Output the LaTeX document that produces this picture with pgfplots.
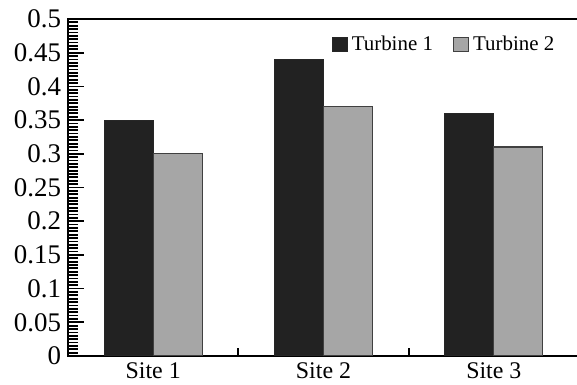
\documentclass[border=0pt]{standalone}
\usepackage{pgfplots}
\pgfplotsset{compat=1.18}
\usepackage{fontspec}
\setmainfont{Liberation Serif}
\definecolor{barblack}{HTML}{222222}
\definecolor{bargray}{HTML}{A6A6A6}
\begin{document}
\begin{tikzpicture}
\begin{axis}[
  name=ax,
  scale only axis,
  width=255.5bp, height=168.5bp,
  xmin=-0.5, xmax=2.5,
  ymin=0, ymax=0.5,
  xtick={0,1,2},
  xticklabels={Site 1,Site 2,Site 3},
  xtick style={draw=none},
  extra x ticks={0.5,1.5},
  extra x tick labels={},
  extra x tick style={xtick style={draw=black, line width=0.9pt}, major tick length=4bp},
  ytick={0,0.05,...,0.5},
  minor y tick num=9,
  yticklabel style={/pgf/number format/fixed,/pgf/number format/precision=2},
  /pgf/number format/assume math mode=true,
  ytick pos=left,
  xtick pos=bottom,
  tick align=inside,
  ytick style={draw=black, line width=0.9pt},
  major tick length=8bp,
  minor tick length=5bp,
  axis line style={line width=0.9pt},
  yticklabel style={font=\fontsize{13.5}{14}\selectfont},
  xticklabel style={font=\fontsize{12}{14}\selectfont},
  legend style={at={(0.972,0.975)}, anchor=north east, draw=none, fill=none,
    font=\fontsize{10.5}{12}\selectfont, legend columns=2,
    /tikz/every even column/.append style={column sep=8bp}},
  legend image code/.code={\draw[#1, line width=0.6pt] (0bp,-3.6bp) rectangle (7.5bp,3.6bp);},
]
\addplot[ybar, bar width=24.5bp, bar shift=-12.25bp, fill=barblack, draw=black!85, line width=0.6pt] coordinates {(0,0.35) (1,0.44) (2,0.36)};
\addplot[ybar, bar width=24.5bp, bar shift=12.25bp, fill=bargray, draw=black!75, line width=0.6pt] coordinates {(0,0.30) (1,0.37) (2,0.31)};
\legend{Turbine 1,Turbine 2}
\end{axis}
\pgfresetboundingbox
\path[use as bounding box] ([xshift=-34bp,yshift=-14.5bp]ax.south west) rectangle ([xshift=-1bp,yshift=9.5bp]ax.north east);
\end{tikzpicture}
\end{document}
